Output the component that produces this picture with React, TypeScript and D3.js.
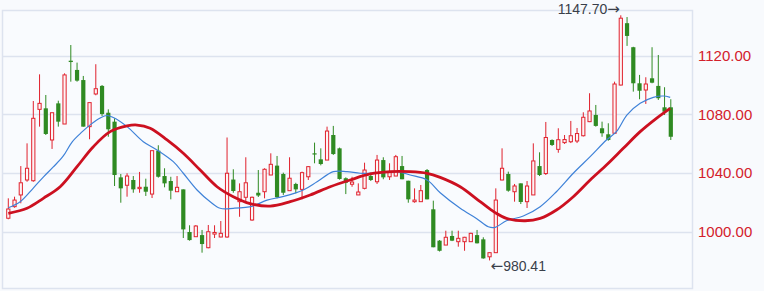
import React from "react";
import * as d3 from "d3";

const opens = [1009.2,1017.1,1025.1,1035.3,1034.8,1083.5,1084.2,1062.6,1087.6,1073.5,1116.7,1110.4,1103.5,1071.7,1094.0,1099.5,1081.2,1075.1,1037.1,1031.7,1035.3,1029.4,1030.7,1025.7,1055.3,1038.0,1034.6,1027.3,1028.9,999.8,996.6,997.7,989.1,998.4,996.4,996.4,1035.6,1020.5,1023.5,1008.0,1026.6,1027.3,1038.7,1045.1,1039.4,1028.0,1032.6,1028.9,1037.5,1053.5,1049.4,1048.9,1066.0,1056.9,1036.5,1032.4,1025.1,1029.6,1038.0,1034.1,1048.9,1037.5,1038.0,1044.8,1034.8,1020.5,1020.5,1042.1,1015.3,993.9,990.9,997.1,993.2,993.2,993.2,997.7,994.8,982.9,985.7,1035.3,1039.4,1027.3,1033.0,1020.5,1025.1,1044.8,1039.7,1062.6,1056.2,1060.8,1061.4,1061.9,1065.5,1075.1,1079.7,1070.6,1066.5,1067.2,1100.1,1142.3,1125.9,1101.3,1096.7,1104.7,1099.5,1084.9,1084.9];
const closes = [1015.5,1021.6,1033.4,1043.3,1077.4,1087.6,1066.7,1081.2,1075.1,1107.0,1115.8,1103.1,1071.7,1088.1,1097.6,1080.3,1069.9,1038.7,1029.6,1038.0,1028.9,1030.3,1027.3,1055.3,1037.5,1033.0,1028.0,1030.3,1001.6,994.3,1003.9,991.6,1000.0,999.5,998.9,1039.9,1027.8,1027.3,1033.4,1023.5,1024.7,1042.6,1046.0,1023.5,1026.6,1036.5,1028.9,1040.3,1044.4,1053.0,1046.2,1068.7,1053.0,1036.0,1033.4,1033.9,1027.1,1042.1,1035.3,1048.9,1037.1,1040.3,1051.2,1035.8,1022.1,1021.6,1028.0,1022.1,989.4,987.0,996.2,993.9,995.5,996.2,998.9,992.1,981.8,985.7,1021.6,1043.3,1028.0,1031.2,1020.3,1031.2,1048.3,1038.7,1064.3,1059.2,1062.8,1062.9,1065.5,1067.0,1078.1,1082.4,1072.2,1067.2,1062.6,1100.8,1145.7,1133.6,1101.3,1096.2,1100.8,1101.7,1091.1,1081.9,1064.8];
const highs = [1022.8,1023.9,1044.8,1060.3,1089.2,1107.4,1093.3,1081.2,1089.4,1108.1,1127.4,1115.4,1106.3,1088.1,1114.3,1100.1,1083.5,1077.4,1039.4,1039.9,1038.0,1040.8,1036.2,1055.3,1059.0,1043.3,1037.5,1038.0,1028.9,1004.4,1004.5,1001.2,1004.6,1004.4,1007.3,1064.3,1042.6,1033.0,1050.8,1024.0,1042.1,1043.3,1053.5,1051.7,1040.3,1050.8,1033.4,1041.0,1044.8,1060.8,1056.9,1071.7,1072.2,1057.4,1037.1,1037.5,1033.0,1047.1,1040.3,1052.4,1050.8,1046.7,1052.4,1051.7,1034.8,1029.6,1031.9,1042.8,1021.2,994.3,1000.7,1000.7,1000.7,996.5,999.3,1001.2,996.2,986.0,1029.6,1056.9,1041.0,1032.6,1033.0,1034.6,1060.3,1054.2,1074.9,1063.0,1070.6,1066.0,1075.6,1070.8,1081.5,1094.5,1086.5,1075.1,1074.0,1102.4,1147.70,1146.5,1126.2,1107.0,1105.4,1125.9,1120.6,1098.6,1090.4];
const lows = [1008.5,1016.4,1019.4,1034.1,1034.1,1071.7,1066.0,1056.5,1071.7,1073.5,1102.4,1102.4,1071.7,1063.1,1093.1,1079.0,1064.8,1031.2,1019.8,1023.9,1026.6,1026.6,1024.4,1023.0,1036.9,1030.3,1022.1,1027.3,995.7,993.9,996.6,985.7,988.7,995.7,996.2,995.9,1026.6,1010.2,1020.5,1007.5,1023.7,1022.8,1038.7,1022.8,1025.1,1028.0,1026.2,1022.1,1035.3,1046.7,1045.3,1048.9,1052.4,1035.5,1025.7,1030.7,1025.1,1028.9,1034.6,1032.6,1035.8,1035.3,1038.0,1035.8,1019.8,1019.8,1020.5,1022.1,989.4,986.5,990.9,993.6,989.8,987.0,993.0,992.0,981.6,980.41,985.5,1035.1,1027.3,1020.5,1018.9,1016.2,1025.1,1038.0,1038.7,1058.5,1053.9,1059.9,1060.5,1060.5,1065.0,1074.8,1071.7,1064.8,1062.1,1066.9,1099.8,1126.8,1095.6,1090.4,1087.2,1101.3,1089.9,1079.7,1062.6];

// thin blue average line, read at candle positions
const blueIdx = [0,1.9,4.0,5.6,7.2,8.8,10.2,11.8,13.1,14.7,15.8,16.8,19.0,21.6,23.8,26.4,28.0,30.2,32.3,33.9,36.0,39.1,41.4,43.9,47.2,49.4,52.0,54.2,56.3,59.0,62.2,64.3,67.0,69.1,72.3,74.9,76.8,77.9,79.7,82.4,85.1,87.7,90.4,93.1,95.7,97.3,99.0,101.1,103.2,104.8,105.9];
const blueVal = [1016.4,1020.5,1029.8,1037.3,1044.2,1051.7,1061.2,1068.1,1072.9,1077.6,1079.3,1077.9,1071.7,1061.4,1055.8,1047.8,1039.9,1028.5,1020.5,1016.0,1016.0,1017.5,1021.6,1023.9,1028.5,1034.1,1041.0,1041.0,1039.9,1039.9,1041.0,1038.7,1035.3,1026.6,1016.0,1009.1,1003.4,1003.0,1007.5,1010.7,1017.1,1027.3,1039.9,1051.2,1062.6,1068.3,1079.7,1087.6,1091.7,1092.6,1091.7];

// thick red average line
const redIdx = [0,3.0,5.6,8.3,11.0,13.6,16.3,19.0,20.6,22.7,25.4,28.0,30.7,33.4,36.0,38.7,41.9,45.1,48.3,51.5,54.7,57.9,61.1,64.3,67.0,69.1,72.3,75.5,77.9,79.7,82.7,85.1,87.7,90.4,93.1,95.7,98.4,101.1,103.7,105.9];
const redVal = [1012.6,1016.0,1022.8,1030.7,1044.4,1058.0,1068.3,1072.2,1072.8,1070.6,1062.6,1053.5,1042.1,1030.7,1023.9,1019.2,1017.5,1020.5,1025.1,1030.7,1035.3,1039.4,1041.0,1041.0,1039.9,1037.1,1030.7,1020.5,1013.0,1009.1,1007.5,1009.1,1014.8,1023.9,1035.3,1045.5,1056.9,1068.3,1077.4,1084.2];

const yTicks = [1000, 1040, 1080, 1120];

const W = 764, H = 291;
const PL = 2, PR = 692, PT = 10, PB = 288;
const UP = "#e0212d";
const DOWN = "#2f8a22";
const BG = "#f8fafd";
const GRID = "#dde3ef";
const FONT = "'Liberation Sans', Arial, sans-serif";
const ARROW_FONT = "'DejaVu Sans', sans-serif";

export default function App() {
  const n = opens.length;
  const x = d3.scaleLinear().domain([0, n - 1]).range([8.3, 670.8]);
  const y = d3.scaleLinear().domain([961.6, 1151.3]).range([PB, PT]);

  const blueLine = d3.line<number>()
    .x((_, i) => x(blueIdx[i]))
    .y((v) => y(v))
    .curve(d3.curveCatmullRom.alpha(0.5));
  const redLine = d3.line<number>()
    .x((_, i) => x(redIdx[i]))
    .y((v) => y(v))
    .curve(d3.curveCatmullRom.alpha(0.5));

  const hiVal = d3.max(highs) as number;
  const hiI = highs.indexOf(hiVal);
  const loVal = d3.min(lows) as number;
  const loI = lows.indexOf(loVal);
  const fmt = d3.format(".2f");

  return (
    <svg width={W} height={H} style={{ position: "absolute", left: 0, top: 0, background: BG }}>
      <rect x={0} y={0} width={W} height={H} fill={BG} />
      <rect x={PL + 0.5} y={PT + 0.5} width={PR - PL} height={PB - PT} fill="#f9fbfe" stroke={GRID} strokeWidth={1.5} />
      {yTicks.map((t) => (
        <line key={t} x1={PL} x2={PR} y1={Math.round(y(t)) + 0.5} y2={Math.round(y(t)) + 0.5} stroke={GRID} strokeWidth={1.5} />
      ))}
      {yTicks.map((t) => (
        <text key={"l" + t} x={698} y={y(t)} dy="0.35em" fill="#d3202b" fontSize={15} fontFamily={FONT}>
          {fmt(t)}
        </text>
      ))}
      {opens.map((o, i) => {
        const c = closes[i];
        const up = c >= o;
        const cx = x(i);
        const top = y(Math.max(o, c));
        const bot = y(Math.min(o, c));
        const col = up ? UP : DOWN;
        if (up) {
          return (
            <g key={i}>
              <line x1={cx} x2={cx} y1={y(highs[i])} y2={top} stroke={col} strokeWidth={1} />
              <line x1={cx} x2={cx} y1={bot} y2={y(lows[i])} stroke={col} strokeWidth={1} />
              <rect x={cx - 1.6} y={top} width={3.2} height={Math.max(bot - top, 1)} fill="#fdf4f5" stroke={col} strokeWidth={1} />
            </g>
          );
        }
        return (
          <g key={i}>
            <line x1={cx} x2={cx} y1={y(highs[i])} y2={y(lows[i])} stroke={col} strokeWidth={1} />
            <rect x={cx - 2.1} y={top} width={4.2} height={Math.max(bot - top, 1.2)} fill={col} />
          </g>
        );
      })}
      <path d={blueLine(blueVal) || ""} fill="none" stroke="#3f82d8" strokeWidth={1.2} />
      <path d={redLine(redVal) || ""} fill="none" stroke="#cc1020" strokeWidth={2.8} />
      <text x={x(hiI) - 1} y={y(hiVal) - 6} dy="0.35em" textAnchor="end" fill="#3a3f4a" fontSize={14} fontFamily={FONT}>
        {fmt(hiVal)}
        <tspan fontFamily={ARROW_FONT} fontSize={15}>{"\u2192"}</tspan>
      </text>
      <text x={x(loI) + 1} y={y(loVal) + 5.5} dy="0.35em" textAnchor="start" fill="#3a3f4a" fontSize={14} fontFamily={FONT}>
        <tspan fontFamily={ARROW_FONT} fontSize={15}>{"\u2190"}</tspan>
        {fmt(loVal)}
      </text>
    </svg>
  );
}
